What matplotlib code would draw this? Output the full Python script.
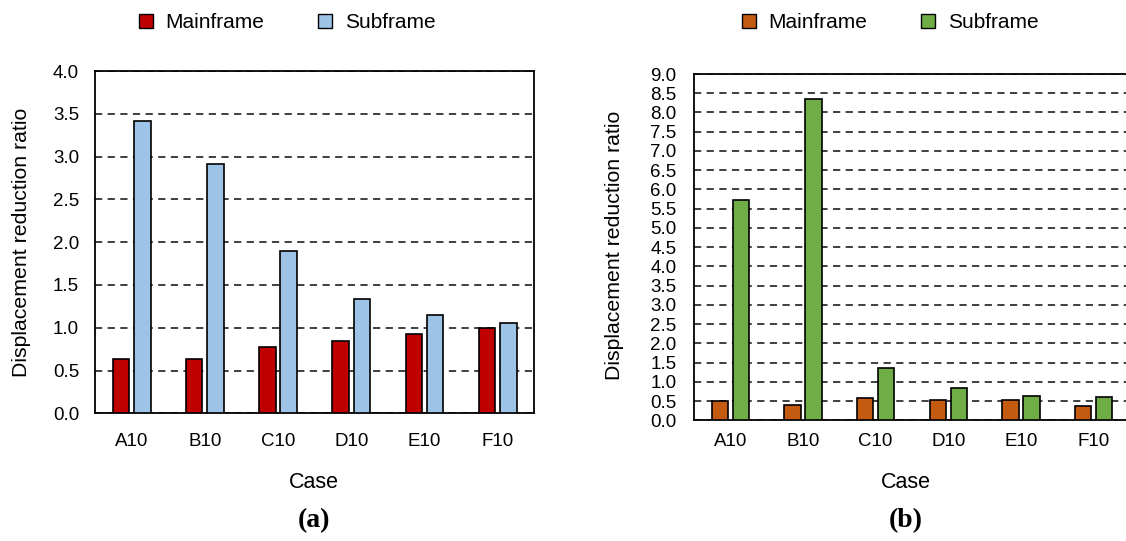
"""Displacement reduction ratio, two panels."""
import numpy as np
import matplotlib
matplotlib.use('Agg')
import matplotlib.pyplot as plt
from matplotlib.patches import Patch

plt.rcParams['font.family'] = ['Liberation Sans', 'DejaVu Sans']

CASES = ['A10', 'B10', 'C10', 'D10', 'E10', 'F10']

# panel (a)
MAIN_A = [0.64, 0.64, 0.78, 0.85, 0.93, 1.00]
SUB_A = [3.42, 2.91, 1.90, 1.34, 1.15, 1.05]

# panel (b)
MAIN_B = [0.50, 0.41, 0.58, 0.54, 0.52, 0.38]
SUB_B = [5.73, 8.36, 1.37, 0.84, 0.64, 0.60]

W, H = 1126, 541


def draw_panel(ax, main, sub, colors, ymax, ypad, xpad):
    x = np.arange(len(CASES))
    width = 0.225
    off = 0.146
    ax.bar(x - off, main, width, color=colors[0], edgecolor='black',
           linewidth=1.2, zorder=3)
    ax.bar(x + off, sub, width, color=colors[1], edgecolor='black',
           linewidth=1.2, zorder=3)
    ax.set_xlim(-0.5, len(CASES) - 0.5)
    ax.set_ylim(0, ymax)
    ax.set_yticks(np.arange(0, ymax + 0.01, 0.5))
    ax.yaxis.set_major_formatter(plt.FormatStrFormatter('%.1f'))
    ax.set_xticks(x)
    ax.set_xticklabels(CASES)
    ax.tick_params(axis='y', length=0, pad=ypad, labelsize=13.5)
    ax.tick_params(axis='x', length=0, pad=xpad, labelsize=13.5)
    ax.grid(axis='y', color='#303030', linestyle=(0, (4, 3)),
            linewidth=1.3, zorder=0)
    for sp in ax.spines.values():
        sp.set_linewidth(1.3)
        sp.set_color('black')


fig = plt.figure(figsize=(W / 100, H / 100), dpi=100)

ax_a = fig.add_axes([95 / W, 1 - 413.3 / H, 439.3 / W, 342.3 / H])
draw_panel(ax_a, MAIN_A, SUB_A, ['#C00000', '#9DC3E6'], 4.0, 11.5, 14)

ax_b = fig.add_axes([694 / W, 1 - 420.3 / H, 436 / W, 346.3 / H])
draw_panel(ax_b, MAIN_B, SUB_B, ['#C55A11', '#70AD47'], 9.0, 12.5, 9)

panels = [
    (ax_a, ['#C00000', '#9DC3E6'], 22, 242, 287, 314, '(a)'),
    (ax_b, ['#C55A11', '#70AD47'], 615, 245, 890, 906, '(b)'),
]
for ax, colors, ylx, yly, legx, cx, tag in panels:
    fig.text(ylx / W, 1 - yly / H, 'Displacement reduction ratio',
             rotation=90, ha='center', va='center', fontsize=15.3)
    fig.text(cx / W, 1 - 482 / H, 'Case', ha='center', va='center',
             fontsize=15.5)
    fig.text(cx / W, 1 - 521 / H, tag, ha='center', va='center',
             fontsize=20, fontweight='bold', family='Liberation Serif')
    handles = [Patch(facecolor=colors[0], edgecolor='black', linewidth=1.0),
               Patch(facecolor=colors[1], edgecolor='black', linewidth=1.0)]
    fig.legend(handles, ['Mainframe', 'Subframe'], loc='center',
               bbox_to_anchor=(legx / W, 1 - 23 / H), ncol=2, frameon=False,
               fontsize=15, handlelength=0.67, handleheight=0.67,
               handletextpad=0.6, columnspacing=2.6)

fig.savefig('out.png', dpi=100)
